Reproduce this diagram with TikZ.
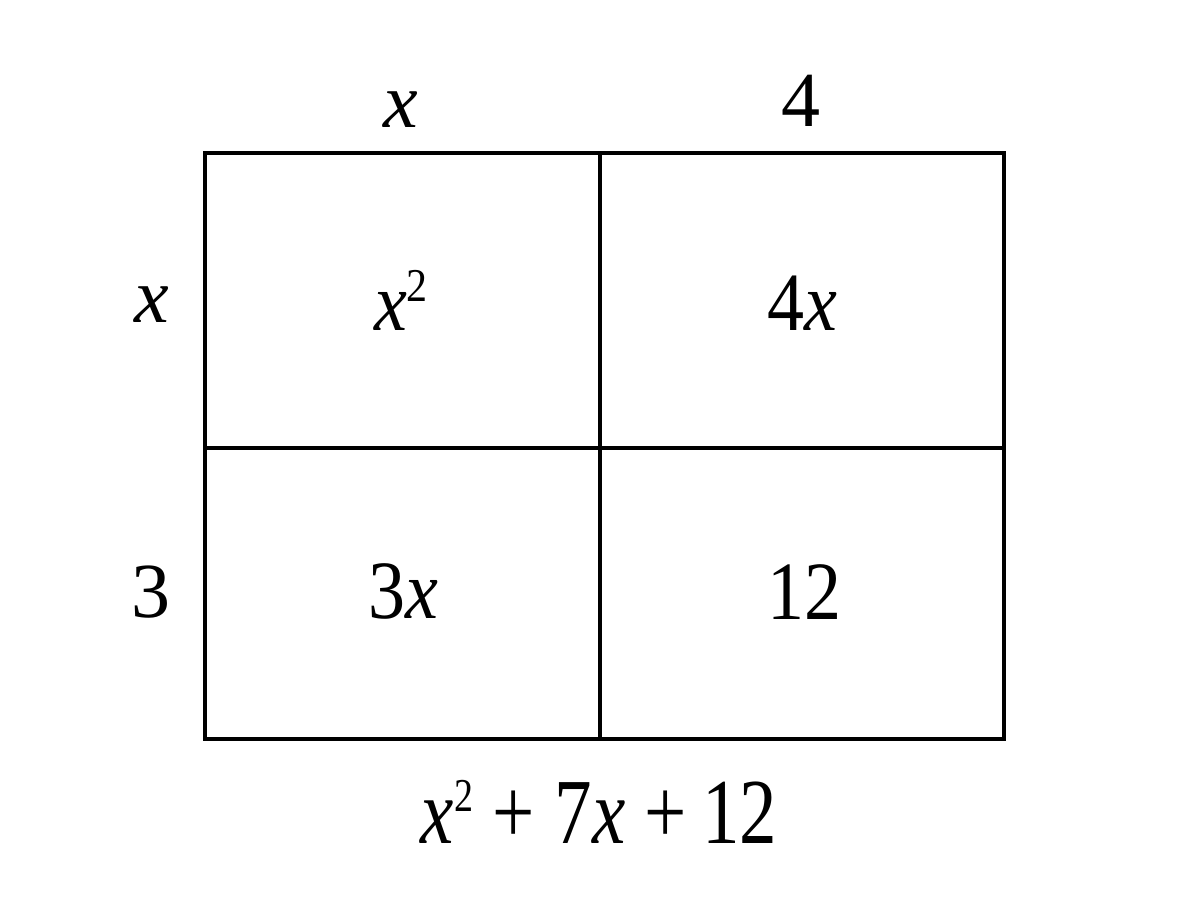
\documentclass[tikz,border=0pt]{standalone}
\usepackage{fontspec}
\setmainfont{Liberation Serif}
\newcommand{\vx}{\textit{x}}
\newcommand{\cellsq}{\raisebox{0.35em}{\fontsize{21}{21}\selectfont 2}}
\newcommand{\sumsq}{\raisebox{0.34em}{\fontsize{19}{19}\selectfont 2}}
\newcommand{\cellt}[1]{\scalebox{1}[1.12]{#1}}
\newcommand{\sumt}[1]{\scalebox{1}[1.24]{#1}}
\begin{document}
\begin{tikzpicture}[x=0.5pt,y=-0.5pt,
  sidelbl/.style={inner sep=0pt,anchor=base,font=\fontsize{39}{46}\selectfont},
  celllbl/.style={inner sep=0pt,anchor=base,font=\fontsize{37}{44}\selectfont},
  sumlbl/.style={inner sep=0pt,anchor=base,font=\fontsize{37.5}{44}\selectfont},
  gridline/.style={line width=1.6pt}]
\useasboundingbox[fill=white] (0,0) rectangle (1200,896);
\coordinate (tl) at (205,153);
\coordinate (br) at (1004,739);
\coordinate (tm) at (600,153);
\coordinate (bm) at (600,739);
\coordinate (lm) at (205,448);
\coordinate (rm) at (1004,448);
\draw[gridline] (tl) rectangle (br);
\draw[gridline] (tm) -- (bm);
\draw[gridline] (lm) -- (rm);
\node[sidelbl] (topx) at (401,127) {\vx};
\node[sidelbl] (top4) at (801,126) {4};
\node[sidelbl] (leftx) at (152,322) {\vx};
\node[sidelbl] (left3) at (151,617) {3};
\node[celllbl] (c11) at (401,330) {\cellt{\vx\cellsq}};
\node[celllbl] (c12) at (802,330) {\cellt{4\vx}};
\node[celllbl] (c21) at (403,618) {\cellt{3\vx}};
\node[celllbl] (c22) at (804,619) {\cellt{12}};
\node[sumlbl] (sum) at (599,843) {\sumt{\vx\sumsq\hspace{0.26em}+\hspace{0.26em}7\vx\hspace{0.26em}+\hspace{0.2em}12}};
\end{tikzpicture}
\end{document}
